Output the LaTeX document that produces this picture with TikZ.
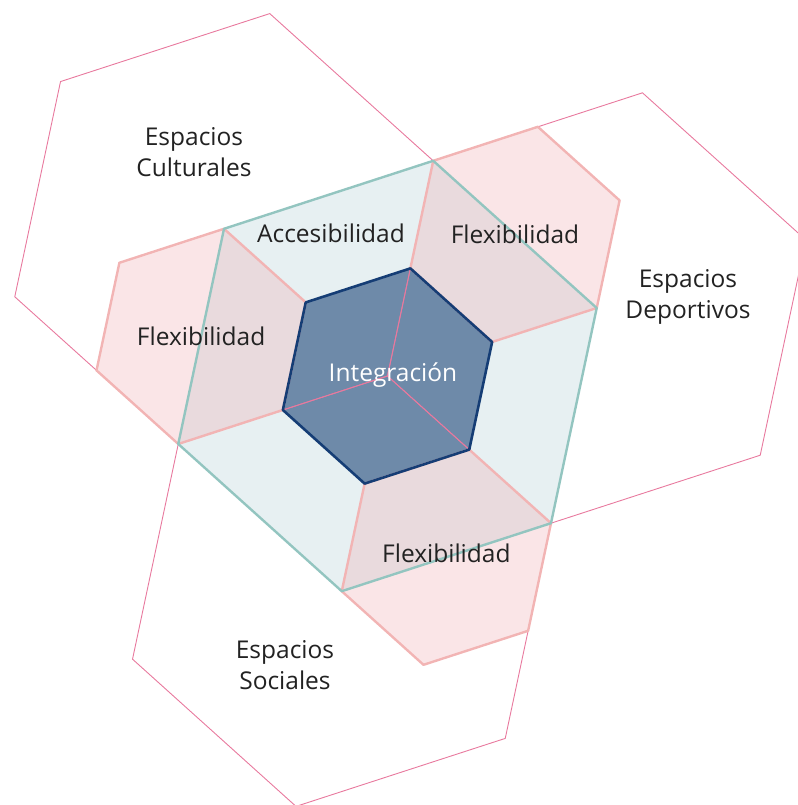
\documentclass[tikz,border=0pt]{standalone}
\usepackage{fontspec}
\setmainfont{Open Sans}

\definecolor{espaciolinea}{HTML}{E8799E}
\definecolor{accesofondo}{HTML}{E7F0F2}
\definecolor{accesolinea}{HTML}{93C5C0}
\definecolor{flexfondo}{HTML}{F0AAAF}
\definecolor{flexlinea}{HTML}{F2B4B4}
\definecolor{integfondo}{HTML}{6E8AA9}
\definecolor{integlinea}{HTML}{153D75}
\definecolor{textogris}{HTML}{222222}

\tikzset{
    pics/hexa/.style={code={
        \path[pic actions] (18:#1) -- (78:#1) -- (138:#1) -- (198:#1) -- (258:#1) -- (318:#1) -- cycle;}},
    espacio/.style={draw=espaciolinea, line width=0.9pt},
    accesozona/.style={fill=accesofondo},
    accesoborde/.style={draw=accesolinea, line width=2.4pt, line join=round},
    flexzona/.style={fill=flexfondo, fill opacity=0.3},
    flexborde/.style={draw=flexlinea, line width=2.4pt, line join=round},
    integzona/.style={fill=integfondo},
    integborde/.style={draw=integlinea, line width=2.6pt, line join=round},
    etiqueta/.style={text=textogris, align=center, inner sep=0pt,
        font=\fontsize{24.5}{31.5}\selectfont},
}

\begin{document}
\begin{tikzpicture}
    \useasboundingbox (-387.5pt,-429pt) rectangle (409.5pt,376pt);
    \coordinate (centro) at (0,0);

    \pic[accesozona] at (centro) {hexa=220pt};
    \foreach \a in {48,168,288}
        \pic[flexzona] at (\a:190.53pt) {hexa=110pt};
    \pic[integzona] at (centro) {hexa=110pt};
    \foreach \a in {18,138,258}
        \pic[espacio] at (\a:220pt) {hexa=220pt};
    \foreach \a in {48,168,288}
        \pic[flexborde] at (\a:190.53pt) {hexa=110pt};
    \pic[accesoborde] at (centro) {hexa=220pt};
    \pic[integborde] at (centro) {hexa=110pt};

    \node[etiqueta] (culturales) at (-193.5pt,224pt) {Espacios\\Culturales};
    \node[etiqueta] (deportivos) at (300.5pt,79pt) {Espacios\\Deportivos};
    \node[etiqueta] (sociales) at (-102.5pt,-289pt) {Espacios\\Sociales};
    \node[etiqueta] (accesibilidad) at (-56.5pt,143pt) {Accesibilidad};
    \node[etiqueta] (flexdeportivos) at (48:190.53pt) {Flexibilidad};
    \node[etiqueta] (flexculturales) at (168:190.53pt) {Flexibilidad};
    \node[etiqueta, yshift=4pt] (flexsociales) at (288:190.53pt) {Flexibilidad};
    \node[etiqueta, text=white] (integracion) at (5.5pt,1pt) {Integración};
\end{tikzpicture}
\end{document}
